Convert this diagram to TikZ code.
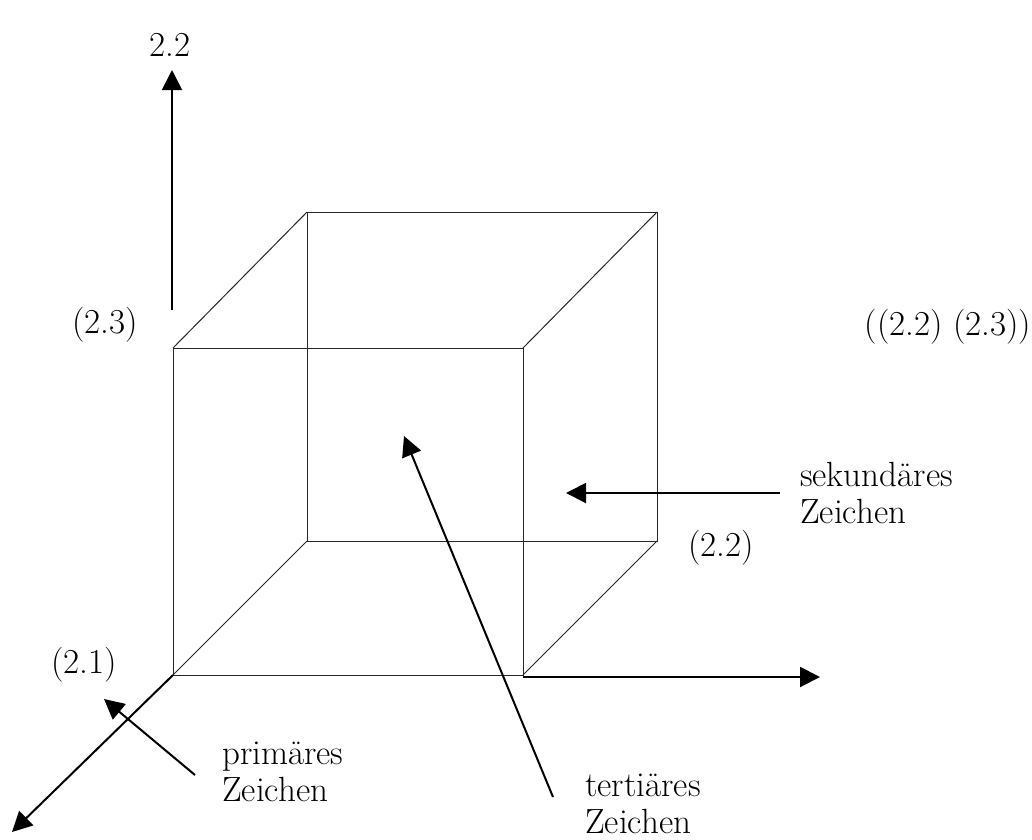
\documentclass[tikz,border=0pt]{standalone}
\usetikzlibrary{arrows.meta}
\begin{document}
\begin{tikzpicture}[x=1pt,y=-1pt,
  cubeline/.style={line width=1pt,black!85},
  axis/.style={line width=2pt,-{Triangle[length=20pt,width=20pt]}},
  pointer/.style={line width=2pt,-{Triangle[length=20pt,width=20pt]}},
  lbl/.style={inner sep=0pt,font=\fontsize{35}{37}\selectfont,align=left}]
\useasboundingbox (0,0) rectangle (1032,839);
% cube corners
\coordinate (FTL) at (173,348);
\coordinate (FTR) at (523,348);
\coordinate (FBL) at (173,675);
\coordinate (FBR) at (523,675);
\coordinate (BTL) at (307,212);
\coordinate (BTR) at (657,212);
\coordinate (BBL) at (307,541);
\coordinate (BBR) at (657,541);
\draw[cubeline] (FTL) -- (FTR) -- (FBR) -- (FBL) -- cycle;
\draw[cubeline] (BTL) -- (BTR) -- (BBR) -- (BBL) -- cycle;
\draw[cubeline] (FTL) -- (BTL) (FTR) -- (BTR) (FBL) -- (BBL) (FBR) -- (BBR);
% axes
\coordinate (vaxs) at (172,310);
\coordinate (vaxe) at (172,70);
\coordinate (haxs) at (523,677);
\coordinate (haxe) at (820,677);
\coordinate (daxe) at (12,832);
\draw[axis] (vaxs) -- (vaxe);
\draw[axis] (haxs) -- (haxe);
\draw[axis] (FBL) -- (daxe);
% labels
\node[lbl] (l22top) at (170,45) {2.2};
\node[lbl] (l23) at (105,325) {(2.3)};
\node[lbl] (lpair) at (948,327) {((2.2) (2.3))};
\node[lbl,anchor=west] (sek) at (800,493) {sekundäres\\Zeichen};
\node[lbl] (l22) at (721,548) {(2.2)};
\node[lbl] (l21) at (84,665) {(2.1)};
\node[lbl,anchor=west] (prim) at (222,772) {primäres\\Zeichen};
\node[lbl,anchor=west] (tert) at (585,804) {tertiäres\\Zeichen};
% pointers
\coordinate (ps) at (195,775);
\coordinate (pe) at (104,699);
\coordinate (ss) at (780,493);
\coordinate (se) at (566,493);
\coordinate (ts) at (553,797);
\coordinate (te) at (404,436);
\draw[pointer] (ps) -- (pe);
\draw[pointer] (ss) -- (se);
\draw[pointer] (ts) -- (te);
\end{tikzpicture}
\end{document}
